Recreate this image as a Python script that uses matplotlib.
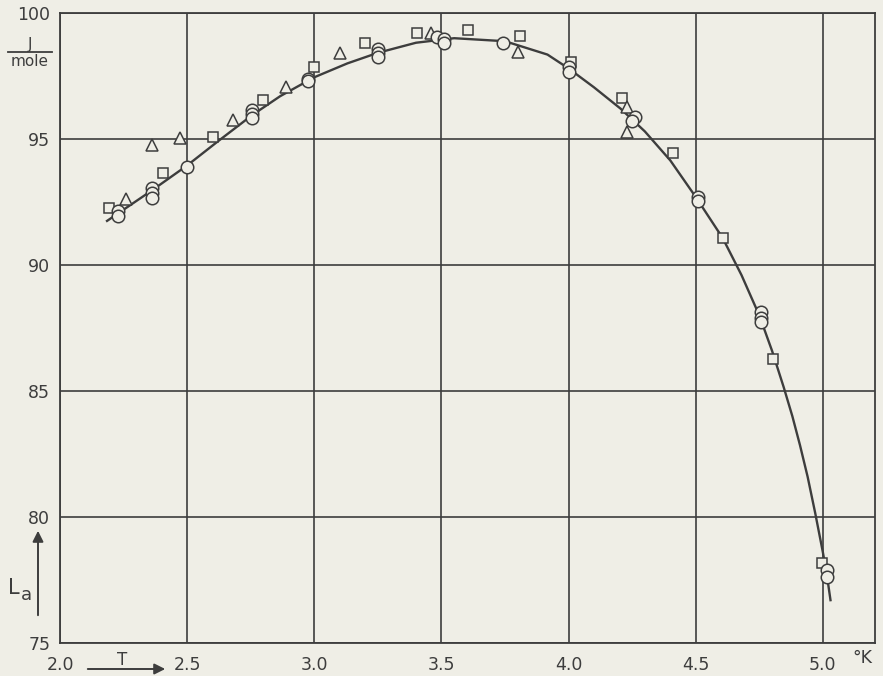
import matplotlib
matplotlib.use("Agg")
import matplotlib.pyplot as plt

curve_T = [2.185, 2.36, 2.50, 2.62, 2.756, 2.866, 3.0, 3.13, 3.25, 3.4, 3.55,
           3.75, 3.917, 4.0, 4.1, 4.205, 4.3, 4.4, 4.5, 4.606, 4.68, 4.75,
           4.80, 4.846, 4.88, 4.91, 4.94, 4.97, 5.0, 5.015, 5.03]
curve_L = [91.75, 92.95, 93.95, 94.9, 95.95, 96.7, 97.45, 98.0, 98.42, 98.82, 99.0,
           98.88, 98.35, 97.8, 97.05, 96.2, 95.3, 94.15, 92.7, 91.07, 89.6, 88.0,
           86.6, 85.15, 84.0, 82.85, 81.6, 80.15, 78.6, 77.75, 76.7]

# meetpunten: vierkantjes
sq_T = [2.193, 2.406, 2.60, 2.80, 3.00, 3.20, 3.405, 3.606, 3.807, 4.01, 4.21,
        4.41, 4.606, 4.803, 4.996]
sq_L = [92.26, 93.65, 95.08, 96.55, 97.86, 98.8, 99.2, 99.33, 99.09, 98.06, 96.63,
        94.44, 91.07, 86.27, 78.17]

# driehoekjes
tr_T = [2.26, 2.36, 2.47, 2.68, 2.89, 3.10, 3.457, 3.80, 4.23, 4.23]
tr_L = [92.6, 94.76, 95.04, 95.75, 97.06, 98.4, 99.2, 98.45, 96.27, 95.28]

# rondjes
ci_T = [2.23, 2.23, 2.36, 2.36, 2.36, 2.50, 2.756, 2.756, 2.756, 2.976, 2.976,
        3.25, 3.25, 3.25, 3.484, 3.51, 3.51, 3.744, 4.0, 4.0, 4.26, 4.25,
        4.51, 4.51, 4.756, 4.756, 4.756, 5.016, 5.016]
ci_L = [92.15, 91.95, 93.05, 92.85, 92.65, 93.9, 96.15, 96.0, 95.83, 97.4, 97.3,
        98.57, 98.4, 98.25, 99.05, 98.95, 98.8, 98.8, 97.86, 97.66, 95.87, 95.7,
        92.7, 92.55, 88.13, 87.9, 87.74, 77.9, 77.6]

x_ticks = [2.0, 2.5, 3.0, 3.5, 4.0, 4.5, 5.0]
x_labels = ["2.0", "2.5", "3.0", "3.5", "4.0", "4.5", "5.0"]
y_ticks = [75, 80, 85, 90, 95, 100]

bg = "#efeee6"
ink = "#3d3d3d"

plt.rcParams['font.family'] = ['DejaVu Sans']

fig = plt.figure(figsize=(8.83, 6.76), dpi=100, facecolor=bg)
ax = fig.add_axes([60/883, 1 - 643/676, 815/883, 630/676])
ax.set_facecolor(bg)

ax.set_xlim(2.0, 5.205)
ax.set_ylim(75, 100)
ax.set_xticks(x_ticks)
ax.set_xticklabels(x_labels)
ax.set_yticks(y_ticks)
ax.tick_params(length=0, labelsize=12.5, colors=ink)
ax.tick_params(axis='x', pad=9)
ax.tick_params(axis='y', pad=7)
ax.grid(color=ink, linewidth=1.2)
ax.set_axisbelow(True)
for s in ax.spines.values():
    s.set_color(ink)
    s.set_linewidth(1.3)

ax.plot(curve_T, curve_L, color=ink, linewidth=1.7, zorder=3)
ax.plot(sq_T, sq_L, 's', ms=7, mfc=bg, mec=ink, mew=1.1, zorder=4)
ax.plot(tr_T, tr_L, '^', ms=8.5, mfc=bg, mec=ink, mew=1.1, zorder=4)
ax.plot(ci_T, ci_L, 'o', ms=9, mfc=bg, mec=ink, mew=1.1, zorder=5)

# eenheden en aslabels
fig.text(30/883, 1 - 44/676, "J", ha='center', va='center', fontsize=11, color=ink)
fig.add_artist(plt.Line2D([8/883, 52/883], [1 - 52/676, 1 - 52/676], color=ink, lw=1.3))
fig.text(30/883, 1 - 61/676, "mole", ha='center', va='center', fontsize=11, color=ink)

fig.text(14/883, 1 - 588/676, "L", ha='center', va='center', fontsize=15, color=ink)
fig.text(26/883, 1 - 595/676, "a", ha='center', va='center', fontsize=13, color=ink)
ax.annotate("", xy=(38/883, 1 - 528/676), xytext=(38/883, 1 - 618/676),
            xycoords='figure fraction', textcoords='figure fraction',
            arrowprops=dict(arrowstyle='-|>', color=ink, lw=1.4, mutation_scale=16))

fig.text(122/883, 1 - 660/676, "T", ha='center', va='center', fontsize=12, color=ink)
ax.annotate("", xy=(168/883, 1 - 669/676), xytext=(85/883, 1 - 669/676),
            xycoords='figure fraction', textcoords='figure fraction',
            arrowprops=dict(arrowstyle='-|>', color=ink, lw=1.4, mutation_scale=16))

fig.text(862/883, 1 - 658/676, "°K", ha='center', va='center', fontsize=12.5, color=ink)

fig.savefig("out.png", dpi=100, facecolor=bg)
